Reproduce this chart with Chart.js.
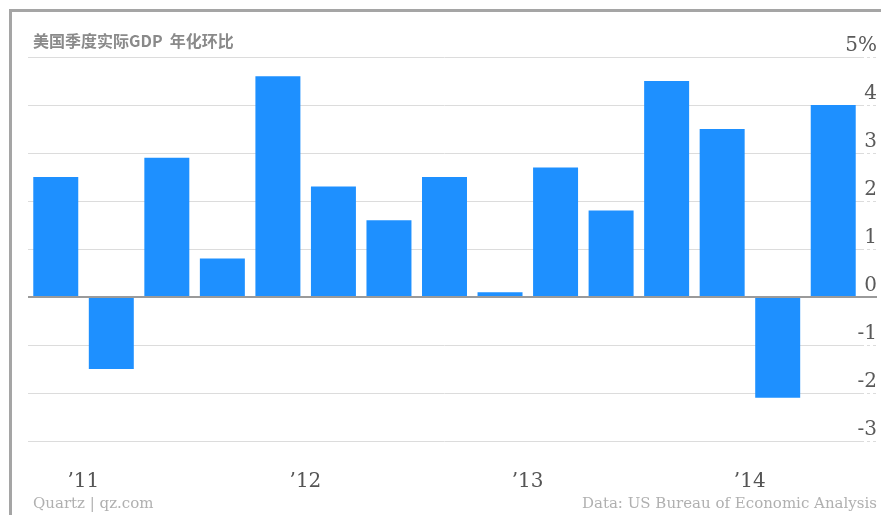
<!DOCTYPE html>
<html>
<head>
<meta charset="utf-8">
<script src="https://cdn.jsdelivr.net/npm/chart.js@4.4.1/dist/chart.umd.min.js"></script>
<style>
    html, body { margin: 0; padding: 0; background: #fff; overflow: hidden; }
    #wrap { position: relative; width: 881px; height: 515px; }
    #frame {
        position: absolute; left: 9px; top: 9px; width: 900px; height: 600px;
        border-left: 3px solid #a5a5a5; border-top: 3px solid #a5a5a5;
    }
    #chart { position: absolute; left: 0; top: 0; }
    .txt { position: absolute; white-space: nowrap; }
    #title {
        left: 33px; top: 31px; font: bold 16px "Noto Sans CJK SC", sans-serif;
        line-height: 18px; color: #8a8a8a;
    }
    .foot { top: 495px; font: 15px "DejaVu Serif", serif; line-height: 17px; color: #b0b0b0; }
    #src { left: 33px; }
    #credit { right: 4px; }
</style>
</head>
<body>
<div id="wrap">
    <div id="frame"></div>
    <canvas id="chart" width="881" height="515"></canvas>
    <div id="title" class="txt">美国季度实际GDP&nbsp; 年化环比</div>
    <div id="src" class="txt foot">Quartz | qz.com</div>
    <div id="credit" class="txt foot">Data: US Bureau of Economic Analysis</div>
</div>
<script>
const quarters = [
    '2010 Q4',
    '2011 Q1', '2011 Q2', '2011 Q3', '2011 Q4',
    '2012 Q1', '2012 Q2', '2012 Q3', '2012 Q4',
    '2013 Q1', '2013 Q2', '2013 Q3', '2013 Q4',
    '2014 Q1', '2014 Q2'
];
const gdpGrowth = [2.5, -1.5, 2.9, 0.8, 4.6, 2.3, 1.6, 2.5, 0.1, 2.7, 1.8, 4.5, 3.5, -2.1, 4.0];
// year label sits on the first quarter of each year (shifted to the boundary)
const yearLabels = ['', '’11', '', '', '', '’12', '', '', '', '’13', '', '', '', '’14', ''];

const isZero = (ctx) => ctx.tick && ctx.tick.value === 0;

const chart = new Chart(document.getElementById('chart'), {
    type: 'bar',
    data: {
        labels: quarters,
        datasets: [{
            label: 'GDP',
            data: gdpGrowth,
            backgroundColor: '#1e90ff',
            borderWidth: 0,
            categoryPercentage: 0.81,
            barPercentage: 1.0
        }]
    },
    options: {
        responsive: false,
        animation: false,
        layout: { padding: { left: 28, top: 57, right: 4, bottom: 14 } },
        plugins: {
            legend: { display: false },
            tooltip: { enabled: false }
        },
        scales: {
            x: {
                border: { display: false },
                grid: { display: false },
                afterFit: (scale) => { scale.height = 60; },
                ticks: {
                    autoSkip: false,
                    maxRotation: 0,
                    padding: 21,
                    labelOffset: -28,
                    color: '#555',
                    font: { family: '"DejaVu Serif", serif', size: 20 },
                    callback: (val, i) => yearLabels[i]
                }
            },
            y: {
                position: 'right',
                min: -3,
                max: 5,
                border: { display: false },
                afterFit: (scale) => { scale.width = 16; },
                grid: {
                    color: (ctx) => isZero(ctx) ? '#9a9a9a' : '#dcdcdc',
                    lineWidth: (ctx) => isZero(ctx) ? 2 : 1,
                    borderDash: (ctx) => isZero(ctx) ? [] : [3, 3],
                    tickColor: (ctx) => isZero(ctx) ? '#9a9a9a' : '#dcdcdc',
                    tickWidth: (ctx) => isZero(ctx) ? 2 : 1,
                    tickBorderDash: (ctx) => isZero(ctx) ? [] : [3, 3],
                    tickLength: 16
                },
                ticks: {
                    stepSize: 1,
                    mirror: true,
                    crossAlign: 'near',
                    padding: 16,
                    labelOffset: -11,
                    color: '#5a5a5a',
                    font: { family: '"DejaVu Serif", serif', size: 20 },
                    callback: (v) => v === 5 ? '5%' : String(v)
                }
            }
        }
    }
});
</script>
</body>
</html>
